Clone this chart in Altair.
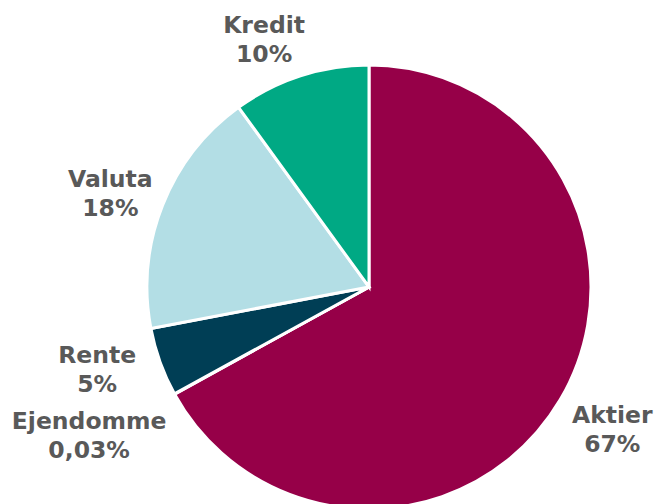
import altair as alt
import pandas as pd

categories = ["Aktier", "Ejendomme", "Rente", "Valuta", "Kredit"]
values = [67, 0.03, 5, 18, 10]
labels = ["67%", "0,03%", "5%", "18%", "10%"]
colors = ["#960048", "#960048", "#003E55", "#B3DEE5", "#00A984"]

# label placement (layout only)
label_radius = [286, 316, 291, 275, 262]
label_dx = [-3, -3, 2, -3, -24]
label_dy = [-2, -3, -15, 9, 3]

FS, LH = 23.5, 29

df = pd.DataFrame({
    "cat": categories,
    "value": values,
    "idx": list(range(len(categories))),
    "text": [f"{c}\n{l}" for c, l in zip(categories, labels)],
})

CX, CY, R = 361, 279, 222

base = alt.Chart(df).encode(
    theta=alt.Theta("value:Q", stack=True),
    order=alt.Order("idx:Q"),
)

pie = base.mark_arc(outerRadius=R, stroke="white", strokeWidth=3).encode(
    color=alt.Color("cat:N", scale=alt.Scale(domain=categories, range=colors), legend=None),
    x=alt.value(CX),
    y=alt.value(CY),
)

texts = []
for i, c in enumerate(categories):
    t = base.mark_text(
        lineBreak="\n", font="DejaVu Sans", fontWeight="bold", fontSize=FS,
        lineHeight=LH, color="#595959", align="center", baseline="middle",
        radius=label_radius[i], dx=label_dx[i], dy=label_dy[i] - LH / 2,
    ).encode(
        text=alt.condition(alt.datum.cat == c, "text:N", alt.value("")),
        x=alt.value(CX),
        y=alt.value(CY),
    )
    texts.append(t)

chart = alt.layer(pie, *texts).properties(
    width=646, height=496, padding=0, autosize=alt.AutoSizeParams(type="none")
).configure_view(stroke=None)

chart.save("out.html", embed_options={"renderer": "svg", "actions": False})
